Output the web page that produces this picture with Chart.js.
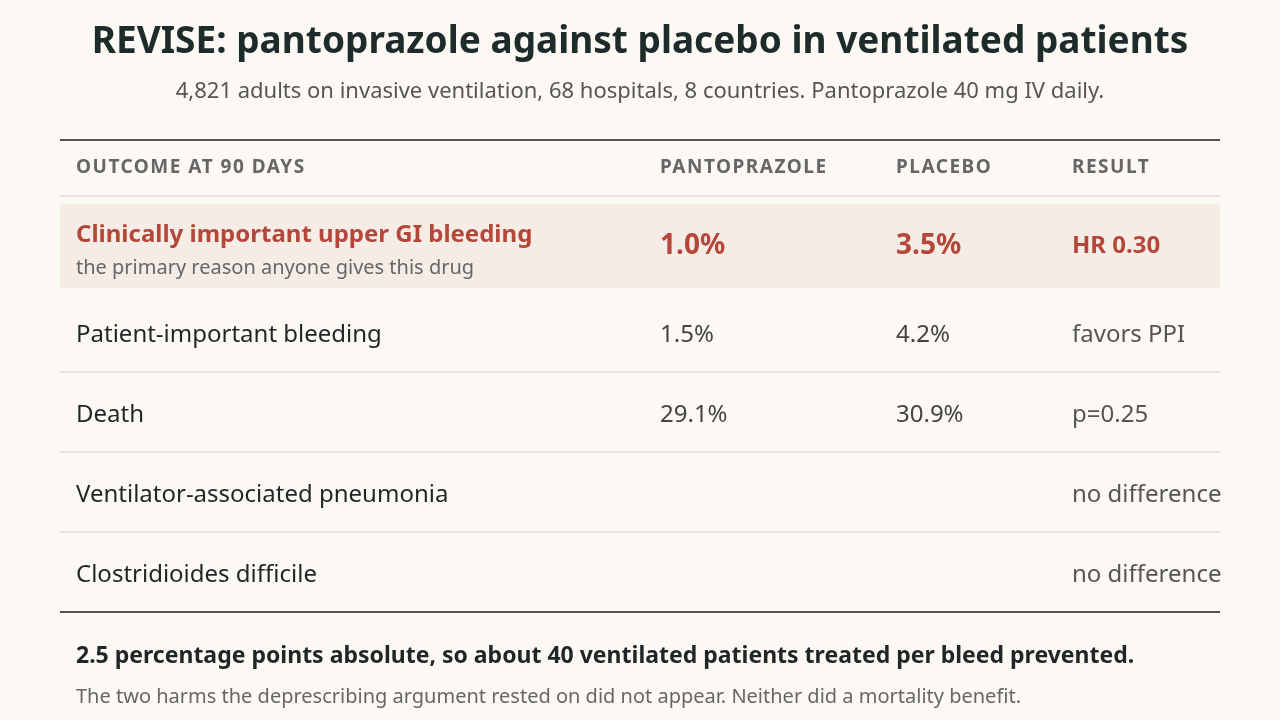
<!DOCTYPE html>
<html><head><meta charset="utf-8">
<script src="https://cdn.jsdelivr.net/npm/chart.js@4/dist/chart.umd.min.js"></script>
<style>html,body{margin:0;padding:0;background:#fcf9f4;}canvas{display:block}</style>
</head><body>
<div style="width:1280px;height:720px;position:relative"><canvas id="c" width="1280" height="720"></canvas></div>
<script>
const title = "REVISE: pantoprazole against placebo in ventilated patients";
const subtitle = "4,821 adults on invasive ventilation, 68 hospitals, 8 countries. Pantoprazole 40 mg IV daily.";
const headers = ["OUTCOME AT 90 DAYS", "PANTOPRAZOLE", "PLACEBO", "RESULT"];
const outcomes = ["Clinically important upper GI bleeding", "Patient-important bleeding", "Death", "Ventilator-associated pneumonia", "Clostridioides difficile"];
const outcomeNotes = ["the primary reason anyone gives this drug", "", "", "", ""];
const pantoprazole = ["1.0%", "1.5%", "29.1%", "", ""];
const placebo = ["3.5%", "4.2%", "30.9%", "", ""];
const result = ["HR 0.30", "favors PPI", "p=0.25", "no difference", "no difference"];
const footerBold = "2.5 percentage points absolute, so about 40 ventilated patients treated per bleed prevented.";
const footerNote = "The two harms the deprescribing argument rested on did not appear. Neither did a mortality benefit.";

const F = '"Noto Sans", "Open Sans", sans-serif';
const colX = [76, 660, 896, 1072];
const RED = '#b5473a';

const tablePlugin = {
  id: 'table',
  afterDraw(chart) {
    const ctx = chart.ctx, y = chart.scales.y, L = 60, R = 1220;
    ctx.save();
    ctx.textBaseline = 'middle';
    ctx.fillStyle = '#1e2b2b'; ctx.textAlign = 'center';
    ctx.font = 'bold 37px ' + F; ctx.fillText(title, 640, 42);
    ctx.fillStyle = '#555'; ctx.font = '22px ' + F; ctx.fillText(subtitle, 640, 92);
    ctx.textAlign = 'left';
    const line = (yy, c, w) => { ctx.strokeStyle = c; ctx.lineWidth = w; ctx.beginPath(); ctx.moveTo(L, yy); ctx.lineTo(R, yy); ctx.stroke(); };
    line(y.getPixelForValue(-0.5) + 5, '#555', 2);
    const hy = y.getPixelForValue(0) - 7;
    ctx.fillStyle = '#666'; ctx.font = 'bold 19px ' + F;
    if ('letterSpacing' in ctx) ctx.letterSpacing = '1.5px';
    headers.forEach((h, i) => ctx.fillText(h, colX[i], hy));
    if ('letterSpacing' in ctx) ctx.letterSpacing = '0px';
    line(hy + 28, '#ddd', 1.5);
    outcomes.forEach((o, k) => {
      const v = k + 1;
      let cy = y.getPixelForValue(v);
      if (k === 0) {
        cy -= 9;
        ctx.fillStyle = '#f5ece5'; ctx.fillRect(L, cy - 42, R - L, 84);
        ctx.fillStyle = RED; ctx.font = 'bold 24px ' + F; ctx.fillText(o, colX[0], cy - 11);
        ctx.fillStyle = '#666'; ctx.font = '20px ' + F; ctx.fillText(outcomeNotes[k], colX[0], cy + 22);
        ctx.fillStyle = RED; ctx.font = 'bold 28px ' + F;
        ctx.fillText(pantoprazole[k], colX[1], cy); ctx.fillText(placebo[k], colX[2], cy);
        ctx.font = 'bold 24px ' + F; ctx.fillText(result[k], colX[3], cy);
      } else {
        ctx.fillStyle = '#1e2626'; ctx.font = '24px ' + F; ctx.fillText(o, colX[0], cy);
        ctx.fillStyle = '#444'; ctx.fillText(pantoprazole[k], colX[1], cy); ctx.fillText(placebo[k], colX[2], cy);
        ctx.fillStyle = '#555'; ctx.fillText(result[k], colX[3], cy);
        if (k < outcomes.length - 1) line(cy + 37, '#ddd', 1.5);
        else line(cy + 37, '#555', 2);
      }
    });
    ctx.fillStyle = '#1e2626'; ctx.font = 'bold 23px ' + F; ctx.fillText(footerBold, colX[0], 656);
    ctx.fillStyle = '#666'; ctx.font = '20px ' + F; ctx.fillText(footerNote, colX[0], 697);
    ctx.restore();
  }
};

new Chart(document.getElementById('c'), {
  type: 'scatter',
  data: { datasets: [{ data: outcomes.map((o, i) => ({ x: 0, y: i + 1 })), pointRadius: 0 }] },
  options: {
    responsive: false, animation: false, events: [],
    layout: { padding: { top: 135, bottom: 105, left: 60, right: 60 } },
    plugins: { legend: { display: false }, tooltip: { enabled: false } },
    scales: {
      x: { display: false, min: 0, max: 1 },
      y: { display: false, reverse: true, min: -0.5, max: 5.5 }
    }
  },
  plugins: [tablePlugin]
});
</script>
</body></html>
